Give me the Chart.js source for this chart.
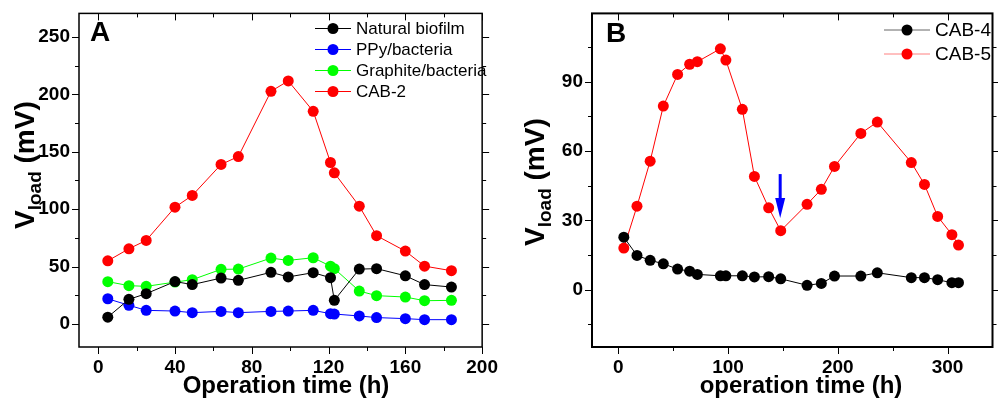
<!DOCTYPE html>
<html>
<head>
<meta charset="utf-8">
<script src="https://cdn.jsdelivr.net/npm/chart.js@4.4.0/dist/chart.umd.min.js"></script>
<style>
html, body { margin: 0; padding: 0; background: #fff; }
#wrap { position: relative; width: 998px; height: 399px; }
.panel { position: absolute; top: 0; height: 399px; }
</style>
</head>
<body>
<div id="wrap">
  <div class="panel" style="left:0;width:500px"><canvas id="chartA"></canvas></div>
  <div class="panel" style="left:500px;width:498px"><canvas id="chartB"></canvas></div>
</div>
<script>
// panel A - operation time (h) and V_load (mV)
const timeA = [5, 16, 25, 40, 49, 64, 73, 90, 99, 112, 121, 123, 136, 145, 160, 170, 184];
const naturalBiofilm = [6, 21.5, 26.4, 37, 34.3, 40, 38, 45, 41, 44.7, 40.3, 20.6, 47.8, 48.2, 42, 34.3, 32.2];
const ppyBacteria = [22, 16.3, 11.9, 11.3, 9.9, 11, 9.9, 11, 11.3, 11.9, 9, 8.7, 7, 5.6, 4.7, 3.8, 3.8];
const graphiteBacteria = [36.9, 33.4, 32.8, 36.5, 38.6, 47.6, 47.8, 57.4, 55.4, 57.7, 50.4, 48.2, 28.7, 24.7, 23.5, 20.3, 20.6];
const cab2 = [55, 65.5, 72.8, 101.7, 111.9, 138.9, 145.8, 202.6, 211.6, 185.2, 140.6, 131.6, 102.6, 76.9, 63.5, 50.4, 46.4];
const xTicksA = [0, 40, 80, 120, 160, 200];
const xMinorA = [20, 60, 100, 140, 180];
const yTicksA = [0, 50, 100, 150, 200, 250];
const yMinorA = [25, 75, 125, 175, 225];

// panel B
const timeB = [5, 17, 29, 41, 54, 65, 72, 93, 98, 113, 124, 137, 148, 172, 185, 197, 221, 236, 267, 279, 291, 304, 310];
const cab4 = [22.7, 14.8, 12.7, 11.2, 8.9, 8, 6.6, 6, 6, 6, 5.5, 5.6, 4.7, 1.9, 2.7, 5.9, 5.9, 7.3, 5.2, 5.2, 4.3, 3, 3];
const cab5 = [18, 36.1, 55.6, 79.4, 93.1, 97.5, 98.6, 104.2, 99.3, 78, 49, 35.4, 25.5, 36.9, 43.4, 53.3, 67.6, 72.5, 55, 45.5, 31.7, 23.8, 19.3];
const xTicksB = [0, 100, 200, 300];
const xMinorB = [50, 150, 250];
const yTicksB = [0, 30, 60, 90];
const yMinorB = [-15, 15, 45, 75, 105];
const arrowB = { x: 147.5, from: 50, to: 31 };

const FONT = '"Liberation Sans", Arial, sans-serif';

// box, mirror ticks, titles, legend and the arrow
const frame = {
  id: 'frame',
  afterDraw(chart, args, o) {
    const { ctx, chartArea: a } = chart;
    const sx = chart.scales.x, sy = chart.scales.y;
    ctx.save();
    ctx.strokeStyle = '#000';
    ctx.lineWidth = 1;
    ctx.beginPath();
    const xt = (vals, len) => vals.forEach(v => {
      const p = Math.round(sx.getPixelForValue(v)) + 0.5;
      ctx.moveTo(p, a.bottom); ctx.lineTo(p, a.bottom + len);
      ctx.moveTo(p, a.top); ctx.lineTo(p, a.top + len);
    });
    const yt = (vals, len) => vals.forEach(v => {
      const p = Math.round(sy.getPixelForValue(v)) + 0.5;
      ctx.moveTo(a.left, p); ctx.lineTo(a.left - len, p);
      ctx.moveTo(a.right, p); ctx.lineTo(a.right + len, p);
    });
    xt(o.xMajor, 7); xt(o.xMinor, 4);
    yt(o.yMajor, 7); yt(o.yMinor, 4);
    ctx.stroke();
    ctx.lineWidth = o.lw;
    ctx.strokeRect(a.left, a.top, a.right - a.left, a.bottom - a.top);

    ctx.fillStyle = '#000';
    // x title
    ctx.font = 'bold 24px ' + FONT;
    ctx.textAlign = 'center';
    ctx.textBaseline = 'alphabetic';
    ctx.fillText(o.xTitle, o.xTitleX, 393);

    // y title with subscript
    ctx.save();
    ctx.translate(o.yTitle[0], o.yTitle[1]);
    ctx.rotate(-Math.PI / 2);
    ctx.textAlign = 'left';
    ctx.font = 'bold 28px ' + FONT;
    ctx.fillText('V', 0, 0);
    let w = ctx.measureText('V').width;
    ctx.font = 'bold 19px ' + FONT;
    ctx.fillText('load', w, 7);
    w += ctx.measureText('load').width;
    ctx.font = 'bold 28px ' + FONT;
    ctx.fillText(' (mV)', w, 0);
    ctx.restore();

    // panel letter
    ctx.font = 'bold 28px ' + FONT;
    ctx.textAlign = 'left';
    ctx.fillText(o.letter, o.letterPos[0], o.letterPos[1]);

    // legend
    const L = o.legend;
    ctx.font = L.size + 'px ' + FONT;
    ctx.textBaseline = 'middle';
    chart.data.datasets.forEach((ds, i) => {
      const y = L.y0 + i * L.dy;
      ctx.strokeStyle = L.lineColors[i];
      ctx.lineWidth = 1;
      ctx.beginPath();
      ctx.moveTo(L.x0, y); ctx.lineTo(L.x1, y);
      ctx.stroke();
      ctx.fillStyle = ds.backgroundColor;
      ctx.beginPath();
      ctx.arc(L.mx, y, 5.5, 0, Math.PI * 2);
      ctx.fill();
      ctx.fillStyle = '#000';
      ctx.fillText(ds.label, L.tx, y + 1);
    });

    if (o.arrow) {
      const px = sx.getPixelForValue(o.arrow.x);
      const top = sy.getPixelForValue(o.arrow.from);
      const tip = sy.getPixelForValue(o.arrow.to);
      ctx.strokeStyle = '#0000ff';
      ctx.fillStyle = '#0000ff';
      ctx.lineWidth = 3;
      ctx.beginPath();
      ctx.moveTo(px, top); ctx.lineTo(px, tip - 18);
      ctx.stroke();
      ctx.beginPath();
      ctx.moveTo(px - 5, tip - 20); ctx.lineTo(px + 5, tip - 20); ctx.lineTo(px, tip);
      ctx.closePath();
      ctx.fill();
    }
    ctx.restore();
  }
};

function series(time, values, label, color) {
  return {
    label: label,
    data: time.map((t, i) => ({ x: t, y: values[i] })),
    borderColor: color,
    backgroundColor: color,
    borderWidth: 1,
    pointRadius: 5.5,
    pointHoverRadius: 5.5,
    pointBorderWidth: 0,
    tension: 0
  };
}

function axes(xr, yr, xTicks, yTicks, yWidth) {
  const tickFont = { family: FONT, size: 19, weight: 'bold' };
  return {
    x: {
      type: 'linear', min: xr[0], max: xr[1],
      afterBuildTicks: s => { s.ticks = xTicks.map(v => ({ value: v })); },
      afterFit: s => { s.height = 52; },
      grid: { display: false, drawTicks: true, tickLength: 7 },
      border: { display: false },
      ticks: { font: tickFont, color: '#000', padding: 2, maxRotation: 0, autoSkip: false }
    },
    y: {
      type: 'linear', min: yr[0], max: yr[1],
      afterBuildTicks: s => { s.ticks = yTicks.map(v => ({ value: v })); },
      afterFit: s => { s.width = yWidth; },
      grid: { display: false, drawTicks: true, tickLength: 7 },
      border: { display: false },
      ticks: { font: tickFont, color: '#000', padding: 2, autoSkip: false }
    }
  };
}

new Chart(document.getElementById('chartA'), {
  type: 'line',
  data: {
    datasets: [
      series(timeA, naturalBiofilm, 'Natural biofilm', '#000000'),
      series(timeA, ppyBacteria, 'PPy/bacteria', '#0000ff'),
      series(timeA, graphiteBacteria, 'Graphite/bacteria', '#00ff00'),
      series(timeA, cab2, 'CAB-2', '#ff0000')
    ]
  },
  options: {
    responsive: true, maintainAspectRatio: false, animation: false,
    layout: { padding: { top: 13, right: 7, left: 0, bottom: 0 } },
    scales: axes([-10, 200], [-20, 270.4], xTicksA, yTicksA, 79),
    plugins: {
      legend: { display: false }, tooltip: { enabled: false },
      frame: {
        lw: 1.5, xMajor: xTicksA, xMinor: xMinorA, yMajor: yTicksA, yMinor: yMinorA,
        xTitle: 'Operation time (h)', xTitleX: 286, yTitle: [34, 229],
        letter: 'A', letterPos: [90, 41],
        legend: { x0: 315, x1: 351, mx: 333, tx: 356, y0: 28.5, dy: 21, size: 17,
          lineColors: ['#000000', '#0000ff', '#00ff00', '#ff0000'] }
      }
    }
  },
  plugins: [frame]
});

new Chart(document.getElementById('chartB'), {
  type: 'line',
  data: {
    datasets: [
      series(timeB, cab4, 'CAB-4', '#000000'),
      series(timeB, cab5, 'CAB-5', '#ff0000')
    ]
  },
  options: {
    responsive: true, maintainAspectRatio: false, animation: false,
    layout: { padding: { top: 13, right: 1.5, left: 0, bottom: 0 } },
    scales: axes([-24, 341], [-24.8, 119.5], xTicksB, yTicksB, 92),
    plugins: {
      legend: { display: false }, tooltip: { enabled: false },
      frame: {
        lw: 2, xMajor: xTicksB, xMinor: xMinorB, yMajor: yTicksB, yMinor: yMinorB,
        xTitle: 'operation time (h)', xTitleX: 301, yTitle: [44, 246],
        letter: 'B', letterPos: [106, 42],
        legend: { x0: 384, x1: 430, mx: 407, tx: 435, y0: 30, dy: 24, size: 19,
          lineColors: ['#666666', '#ff8080'] },
        arrow: arrowB
      }
    }
  },
  plugins: [frame]
});
</script>
</body>
</html>
